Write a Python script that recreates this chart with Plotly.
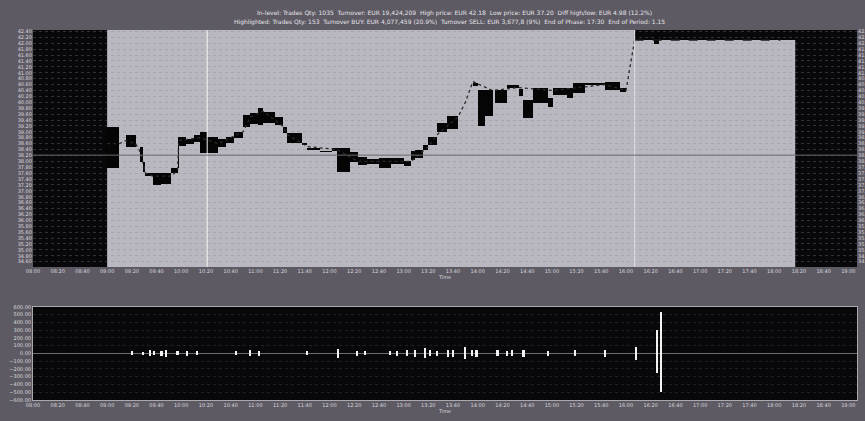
import plotly.graph_objects as go

# ---------------- data ----------------
tick_labels = ["08:00", "08:20", "08:40", "09:00", "09:20", "09:40", "10:00", "10:20", "10:40",
               "11:00", "11:20", "11:40", "12:00", "12:20", "12:40", "13:00", "13:20", "13:40",
               "14:00", "14:20", "14:40", "15:00", "15:20", "15:40", "16:00", "16:20", "16:40",
               "17:00", "17:20", "17:40", "18:00", "18:20", "18:40", "19:00"]
view_start, view_end = "08:00", "19:07"

# price blocks (time interval, low, high)
blk_start = ["08:58", "09:15", "09:27", "09:29", "09:31", "09:37", "09:44", "09:52", "09:57", "09:58",
             "10:04", "10:10", "10:15", "10:21", "10:30", "10:36", "10:43", "10:50", "10:56", "11:02",
             "11:06", "11:16", "11:22", "11:26", "11:38", "11:42", "11:52", "12:02", "12:06", "12:17",
             "12:23", "12:30", "12:40", "12:50", "13:00", "13:06", "13:09", "13:16", "13:20", "13:27",
             "13:35", "13:56", "14:00", "14:06", "14:14", "14:24", "14:33", "14:37", "14:45", "14:57",
             "15:01", "15:12", "15:17", "15:27", "15:43", "15:55", "16:23"]
blk_end = ["09:10", "09:23", "09:29", "09:31", "09:37", "09:44", "09:52", "09:57", "09:58", "10:04",
           "10:10", "10:15", "10:21", "10:30", "10:36", "10:43", "10:50", "10:56", "11:02", "11:06",
           "11:16", "11:22", "11:26", "11:38", "11:42", "11:52", "12:02", "12:06", "12:17", "12:23",
           "12:30", "12:40", "12:50", "13:00", "13:06", "13:09", "13:16", "13:20", "13:27", "13:35",
           "13:44", "14:00", "14:06", "14:12", "14:24", "14:33", "14:37", "14:45", "14:57", "15:01",
           "15:12", "15:17", "15:27", "15:43", "15:55", "16:00", "16:27"]
blk_low = [37.77, 38.49, 37.98, 37.64, 37.50, 37.20, 37.22, 37.60, 37.77, 38.52,
           38.60, 38.65, 38.28, 38.28, 38.50, 38.62, 38.80, 39.16, 39.25, 39.23,
           39.30, 39.23, 38.96, 38.62, 38.55, 38.38, 38.30, 38.36, 37.64, 37.98,
           37.88, 37.90, 37.77, 37.90, 37.85, 38.05, 38.11, 38.40, 38.55, 38.99,
           39.10, 40.55, 39.20, 39.55, 39.98, 40.49, 40.20, 39.47, 39.98, 39.85,
           40.25, 40.15, 40.32, 40.58, 40.42, 40.35, 41.98]
blk_high = [39.16, 38.89, 38.49, 37.98, 37.62, 37.60, 37.60, 37.77, 38.82, 38.82,
            38.75, 38.90, 38.99, 38.82, 38.75, 38.82, 39.00, 39.57, 39.65, 39.81,
            39.67, 39.50, 39.15, 38.96, 38.62, 38.45, 38.35, 38.45, 38.45, 38.31,
            38.15, 38.08, 38.11, 38.10, 38.00, 38.35, 38.38, 38.55, 38.82, 39.30,
            39.55, 40.65, 40.42, 40.42, 40.42, 40.59, 40.45, 40.08, 40.49, 40.15,
            40.49, 40.49, 40.65, 40.65, 40.69, 40.50, 42.25]

# last-price path
px_time = ["09:00", "09:10", "09:15", "09:23", "09:27", "09:31", "09:37", "09:52", "09:57", "09:58",
           "10:15", "10:30", "10:50", "10:56", "11:06", "11:22", "11:26", "11:42", "12:06", "12:23",
           "13:06", "13:20", "13:27", "13:44", "13:50", "13:56", "14:12", "14:33", "15:01", "15:43",
           "16:00", "16:07"]
px_value = [38.60, 38.60, 38.70, 38.60, 38.30, 37.60, 37.50, 37.50, 37.70, 38.70,
            38.80, 38.60, 39.00, 39.50, 39.70, 39.20, 38.90, 38.50, 38.40, 38.00,
            38.00, 38.50, 38.90, 39.50, 40.00, 40.70, 40.40, 40.50, 40.40, 40.60,
            40.40, 42.11]
post_time = ["16:07", "18:05"]
post_value = [42.11, 42.11]

# trading phases and crosshair
phase_start = ["09:00", "16:07"]
phase_end = ["16:07", "18:17"]
phase_top = [None, 42.11]
cross_time = "10:21"
cross_price = 38.21
phase_marker = "16:07"
price_range = [34.42, 42.45]

# volume (buy up / sell down)
vol_time = ["09:20", "09:29", "09:35", "09:38", "09:44", "09:48", "09:57", "10:05", "10:13", "10:44",
            "10:56", "11:03", "11:42", "12:07", "12:22", "12:29", "12:49", "12:55", "13:03", "13:09",
            "13:17", "13:21", "13:27", "13:36", "13:40", "13:50", "13:55", "13:59", "14:16", "14:24",
            "14:28", "14:37", "14:57", "15:19", "15:43", "16:08", "16:25", "16:28"]
vol_buy = [30, 25, 40, 30, 35, 45, 30, 35, 30, 30, 40, 35, 30, 60, 35, 30, 30, 35, 40, 45,
           70, 40, 35, 50, 45, 80, 40, 45, 40, 35, 40, 45, 35, 40, 50, 90, 300, 530]
vol_sell = [-25, -20, -35, -25, -30, -40, -25, -30, -25, -25, -35, -30, -25, -55, -30, -25, -25, -30, -35, -40,
            -60, -35, -30, -45, -40, -70, -35, -40, -35, -30, -35, -40, -30, -35, -45, -80, -250, -500]
vol_range = [-600, 600]

header_1 = ("In-level: Trades Qty: 1035  Turnover: EUR 19,424,209  High price: EUR 42.18  "
            "Low price: EUR 37.20  Diff high/low: EUR 4.98 (12.2%)")
header_2 = ("Highlighted: Trades Qty: 153  Turnover BUY: EUR 4,077,459 (20.9%)  "
            "Turnover SELL: EUR 3,677,8 (9%)  End of Phase: 17:30  End of Period: 1.15")
x_title = "Time"


def tmin(s):
    h, m = s.split(":")
    return int(h) * 60 + int(m)


# ---------------- figure ----------------
FONT = "DejaVu Sans"
TXT = "#d8d8dc"
fig = go.Figure()

bs = [tmin(s) for s in blk_start]
be = [tmin(s) for s in blk_end]
fig.add_trace(go.Bar(
    x=[(a + b) / 2 for a, b in zip(bs, be)],
    y=[h - l for h, l in zip(blk_high, blk_low)],
    base=blk_low, width=[b - a for a, b in zip(bs, be)],
    marker=dict(color="#050505", line=dict(width=0)),
    xaxis="x", yaxis="y", hoverinfo="skip", showlegend=False))

fig.add_trace(go.Scatter(
    x=[tmin(s) for s in px_time], y=px_value, mode="lines",
    line=dict(color="#2a2a2a", width=1.3, dash="dot"),
    xaxis="x", yaxis="y", hoverinfo="skip", showlegend=False))
fig.add_trace(go.Scatter(
    x=[tmin(s) for s in post_time], y=post_value, mode="lines",
    line=dict(color="#1a1a1a", width=1.5, dash="dash"),
    xaxis="x", yaxis="y", hoverinfo="skip", showlegend=False))
fig.add_trace(go.Scatter(x=[None], y=[None], xaxis="x", yaxis="y3", showlegend=False, hoverinfo="skip"))

vt = [tmin(s) for s in vol_time]
for vals in (vol_buy, vol_sell):
    fig.add_trace(go.Bar(x=vt, y=vals, width=1.7,
                         marker=dict(color="#f2f2f2", line=dict(width=0)),
                         xaxis="x2", yaxis="y2", hoverinfo="skip", showlegend=False))

# session backgrounds
for s, e, top in zip(phase_start, phase_end, phase_top):
    if top is None:
        fig.add_shape(type="rect", xref="x", yref="y domain", x0=tmin(s), x1=tmin(e), y0=0, y1=1,
                      fillcolor="#b9b8c0", line_width=0, layer="below")
    else:
        fig.add_shape(type="rect", xref="x", yref="y", x0=tmin(s), x1=tmin(e), y0=price_range[0], y1=top,
                      fillcolor="#b9b8c0", line_width=0, layer="below")

fig.add_shape(type="line", xref="x", yref="y domain", x0=tmin(cross_time), x1=tmin(cross_time), y0=0, y1=1,
              line=dict(color="#f4f4f4", width=1))
fig.add_shape(type="line", xref="x", yref="y domain", x0=tmin(phase_marker), x1=tmin(phase_marker), y0=0, y1=1,
              line=dict(color="#e6e6ea", width=1))
fig.add_shape(type="line", xref="x domain", yref="y", x0=0, x1=1, y0=cross_price, y1=cross_price,
              line=dict(color="#6a6a6e", width=1))

tv = [tmin(s) for s in tick_labels]
xr = [tmin(view_start), tmin(view_end)]
common_x = dict(range=xr, tickmode="array", tickvals=tv, ticktext=tick_labels,
                tickfont=dict(size=5, color=TXT, family=FONT), showgrid=False, zeroline=False,
                ticks="", automargin=False, fixedrange=True)
fig.update_layout(
    template="none",
    width=865, height=421,
    margin=dict(l=33, r=8, t=30, b=21),
    paper_bgcolor="#5e5a64",
    plot_bgcolor="#08080a",
    barmode="overlay",
    bargap=0,
    xaxis=dict(domain=[0, 1], anchor="y", **common_x,
               title=dict(text=x_title, font=dict(size=5, color=TXT, family=FONT), standoff=1)),
    xaxis2=dict(domain=[0, 1], anchor="y2", **common_x, showline=True, mirror=True,
                linecolor="#a9a9ae", linewidth=1,
                title=dict(text=x_title, font=dict(size=5, color=TXT, family=FONT), standoff=1)),
    yaxis=dict(domain=[0.3595, 1], anchor="x", range=price_range, dtick=0.2, tick0=0, tickformat=".2f",
               tickfont=dict(size=5, color=TXT, family=FONT), showgrid=True,
               gridcolor="rgba(128,128,134,0.35)", griddash="dot", gridwidth=1,
               zeroline=False, automargin=False, ticks="", fixedrange=True),
    yaxis3=dict(overlaying="y", anchor="x", side="right", range=price_range, dtick=0.2, tick0=0,
                tickformat=".2f", tickfont=dict(size=5, color=TXT, family=FONT), showgrid=False,
                zeroline=False, automargin=False, ticks="", fixedrange=True),
    yaxis2=dict(domain=[0, 0.2514], anchor="x2", range=vol_range, dtick=100, tickformat=".2f",
                tickfont=dict(size=5, color=TXT, family=FONT), showgrid=True,
                gridcolor="rgba(255,255,255,0.10)", griddash="dot",
                zeroline=True, zerolinecolor="#6e6e72", zerolinewidth=1,
                showline=True, mirror=True, linecolor="#a9a9ae", linewidth=1,
                automargin=False, ticks="", fixedrange=True),
    annotations=[
        dict(text=header_1, x=0.511, y=(400 - 13) / 370, xref="paper", yref="paper", showarrow=False,
             yanchor="middle", font=dict(size=6, color="#e4e4e8", family=FONT)),
        dict(text=header_2, x=0.506, y=(400 - 22) / 370, xref="paper", yref="paper", showarrow=False,
             yanchor="middle", font=dict(size=6, color="#e4e4e8", family=FONT)),
    ],
)

fig.write_html("out.html",
               config={"displayModeBar": False, "staticPlot": True},
               post_script="document.body.style.margin='0';document.body.style.padding='0';"
                           "document.body.style.background='#5e5a64';")
